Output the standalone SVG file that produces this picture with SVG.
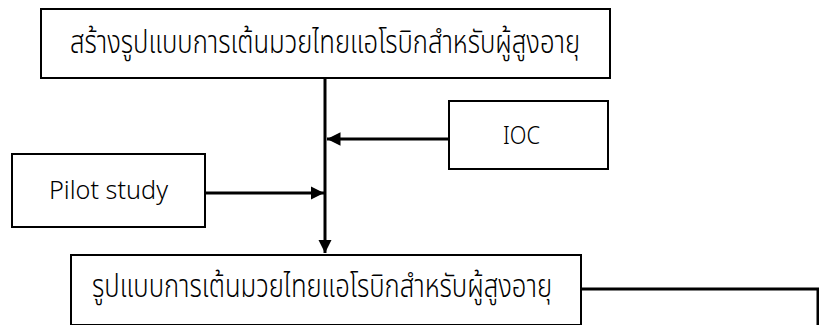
<svg xmlns="http://www.w3.org/2000/svg" width="819" height="325" viewBox="0 0 819 325">
<style>
.box{fill:#fff;stroke:#000;stroke-width:2}
.t{font-family:"Noto Sans Thai","Noto Sans","DejaVu Sans",sans-serif;font-weight:300;fill:#000;font-size:25px}
.c{stroke:#000;stroke-width:3;fill:none}
</style>
<defs>
<marker id="ah" viewBox="0 0 10 10" refX="10" refY="5" markerWidth="4.5" markerHeight="4.5" orient="auto" markerUnits="strokeWidth">
<path d="M0,0 L10,5 L0,10 z" fill="#000"/>
</marker>
</defs>
<rect width="819" height="325" fill="#fff"/>
<g id="n1"><rect class="box" x="41" y="9" width="569" height="69"/>
<text class="t" transform="translate(70,53) scale(1,1.3)" textLength="510" lengthAdjust="spacingAndGlyphs">สร้างรูปแบบการเต้นมวยไทยแอโรบิกสำหรับผู้สูงอายุ</text></g>
<g id="n2"><rect class="box" x="449" y="101" width="159" height="68"/>
<text class="t" x="503" y="144" textLength="37" lengthAdjust="spacingAndGlyphs">IOC</text></g>
<g id="n3"><rect class="box" x="12" y="154" width="193" height="73"/>
<text class="t" x="49" y="199" textLength="119" lengthAdjust="spacingAndGlyphs">Pilot study</text></g>
<g id="n4"><rect class="box" x="71" y="255" width="510" height="70"/>
<text class="t" transform="translate(92,297) scale(1,1.3)" textLength="460" lengthAdjust="spacingAndGlyphs">รูปแบบการเต้นมวยไทยแอโรบิกสำหรับผู้สูงอายุ</text></g>
<g id="connectors">
<line class="c" x1="325" y1="78" x2="325" y2="253" marker-end="url(#ah)"/>
<line class="c" x1="449" y1="139" x2="327" y2="139" marker-end="url(#ah)"/>
<line class="c" x1="205" y1="193" x2="324" y2="193" marker-end="url(#ah)"/>
<polyline class="c" points="581,289 818,289 818,326"/>
</g>
</svg>
